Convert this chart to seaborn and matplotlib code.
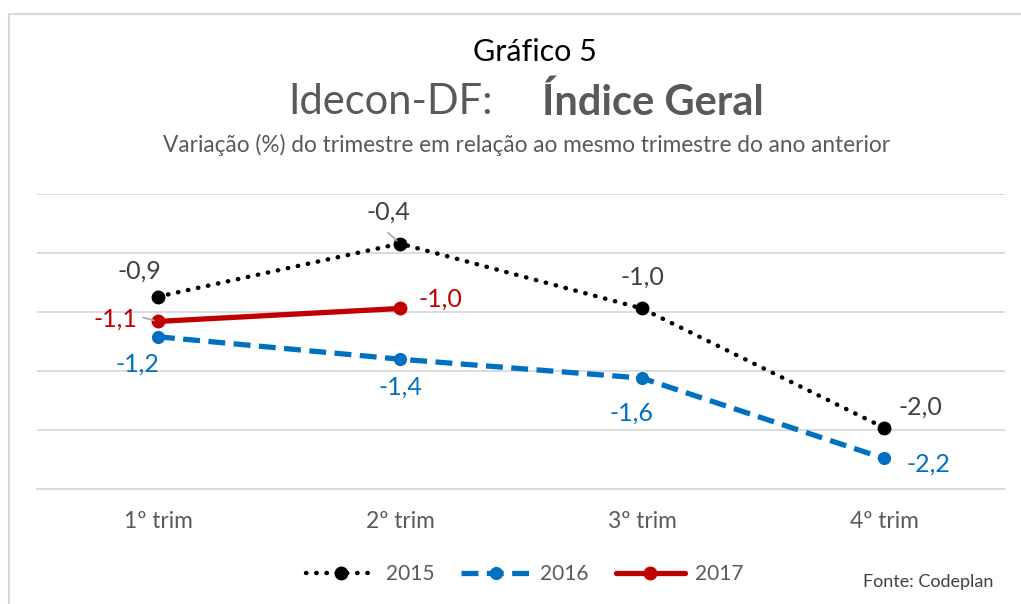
import numpy as np
import pandas as pd
import seaborn as sns
import matplotlib.pyplot as plt
from matplotlib.patches import Rectangle

# -------- DATA --------
trimestres = ["1º trim", "2º trim", "3º trim", "4º trim"]
v2015 = [-0.87, -0.42, -0.97, -1.98]
v2016 = [-1.21, -1.40, -1.56, -2.24]
v2017 = [-1.08, -0.97]

sns.set_theme(style="white")
plt.rcParams['font.family'] = ['Lato', 'DejaVu Sans']

rows = []
for ano, vals in [("2015", v2015), ("2016", v2016), ("2017", v2017)]:
    for i, v in enumerate(vals):
        rows.append({"ano": ano, "pos": i, "trim": trimestres[i], "valor": v})
df = pd.DataFrame(rows)

# style per series
cores = {"2015": "#000000", "2016": "#0070C0", "2017": "#C00000"}
cores_txt = {"2015": "#404040", "2016": "#0070C0", "2017": "#C00000"}
estilos = {
    "2015": dict(linestyle=(0, (0.1, 2.2)), linewidth=3.2, dash_capstyle="round",
                 marker="o", markersize=10),
    "2016": dict(linestyle=(0, (3.2, 1.6)), linewidth=3.8, marker="o", markersize=9.5),
    "2017": dict(linestyle="-", linewidth=3.8, marker="o", markersize=10),
}
# label offsets in pixels (dx, dy up)
offsets = {
    "2015": [(-19, 26), (-12, 31), (0, 31), (36, 21)],
    "2016": [(-21, -27), (0, -28), (-10, -35), (44, -6)],
    "2017": [(-43, 2), (40, 9)],
}

fig = plt.figure(figsize=(10.21, 6.04), dpi=100)
ax = fig.add_axes([0.0362, 0.1904, 0.9481, 0.4884])

for ano in ["2015", "2016", "2017"]:
    sub = df[df["ano"] == ano]
    sns.lineplot(data=sub, x="pos", y="valor", ax=ax, color=cores[ano],
                 markeredgewidth=0, label=ano, **estilos[ano])
    for (_, r), (dx, dy) in zip(sub.iterrows(), offsets[ano]):
        ax.annotate(f"{r['valor']:.1f}".replace(".", ","), (r["pos"], r["valor"]),
                    xytext=(dx * 0.72, dy * 0.72), textcoords="offset points",
                    ha="center", va="center", fontsize=18, color=cores_txt[ano])

# small leader lines (as in the original)
ax.annotate("", (1, v2015[1]), xytext=(-12 * 0.72, 11 * 0.72), textcoords="offset points",
            arrowprops=dict(arrowstyle="-", color="#A6A6A6", lw=1.2, shrinkA=0, shrinkB=3))
ax.annotate("", (0, v2017[0]), xytext=(-15 * 0.72, 4 * 0.72), textcoords="offset points",
            arrowprops=dict(arrowstyle="-", color="#A6A6A6", lw=1.2, shrinkA=0, shrinkB=3))

ax.set_xlim(-0.5, 3.5)
ax.set_ylim(-2.5, 0)
ax.set_yticks(np.arange(-2.5, 0.01, 0.5))
ax.set_yticklabels([])
ax.tick_params(axis="y", length=0)
ax.set_xticks(range(len(trimestres)))
ax.set_xticklabels(trimestres, fontsize=16.4, color="#595959")
ax.tick_params(axis="x", length=0, pad=16)
ax.set_xlabel("")
ax.set_ylabel("")
ax.grid(axis="y", color="#D9D9D9", linewidth=1.3)
for s in ["top", "right", "left"]:
    ax.spines[s].set_visible(False)
ax.spines["bottom"].set_color("#D9D9D9")
ax.spines["bottom"].set_linewidth(1.3)
ax.set_axisbelow(True)

handles, labels = ax.get_legend_handles_labels()
ax.get_legend().remove()
fig.legend(handles, labels, loc="center", bbox_to_anchor=(525 / 1021, 1 - 574 / 604),
           ncol=3, frameon=False, fontsize=15, handlelength=3.3, columnspacing=1.3,
           labelcolor="#595959", handletextpad=0.5)

fig.text(535 / 1021, 1 - 52 / 604, "Gráfico 5", ha="center", va="center",
         fontsize=22, color="#000000")
fig.text(493 / 1021, 1 - 102 / 604, "Idecon-DF:", ha="right", va="center",
         fontsize=30, color="#595959")
fig.text(542 / 1021, 1 - 102 / 604, "Índice Geral", ha="left", va="center",
         fontsize=30, color="#595959", fontweight="bold")
fig.text(527 / 1021, 1 - 145 / 604,
         "Variação (%) do trimestre em relação ao mesmo trimestre do ano anterior",
         ha="center", va="center", fontsize=16.3, color="#595959")
fig.text(928 / 1021, 1 - 582 / 604, "Fonte: Codeplan", ha="center", va="center",
         fontsize=13, color="#404040")

fig.patches.append(Rectangle((9 / 1021, -0.05), 1.1, 1.05 - 14 / 604,
                             transform=fig.transFigure, fill=False,
                             edgecolor="#D9D9D9", linewidth=1.5))

fig.savefig("out.png", dpi=100)
